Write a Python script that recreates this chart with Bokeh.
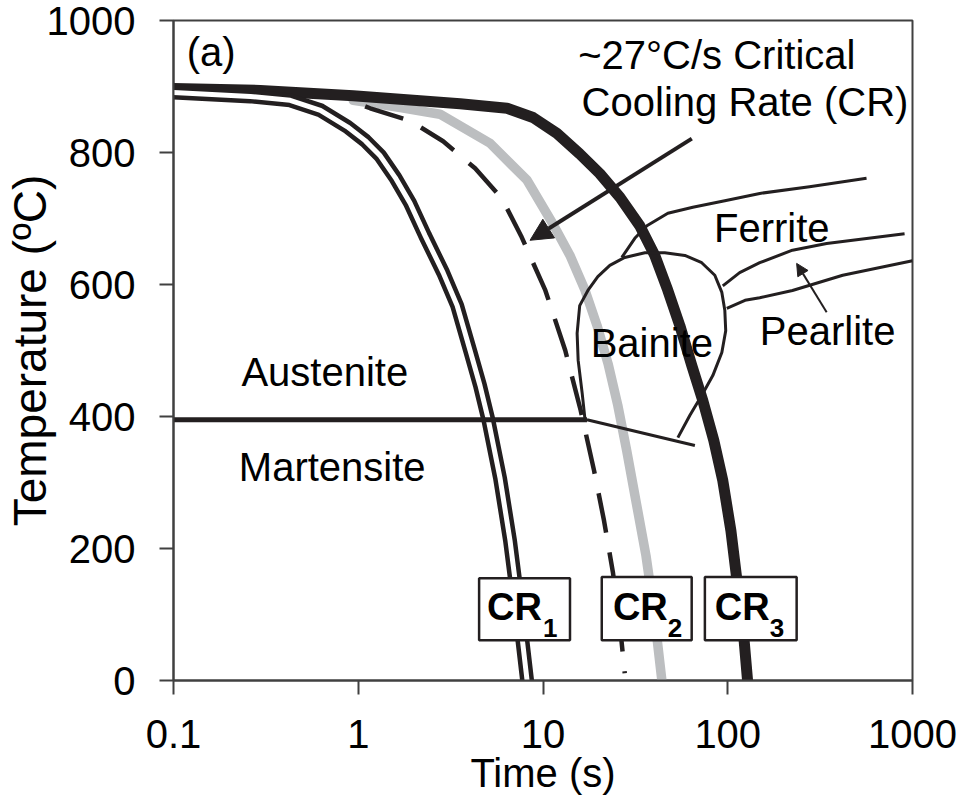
from bokeh.plotting import figure
from bokeh.models import Range1d, FixedTicker, Arrow, NormalHead, Label
from bokeh.embed import file_html
from bokeh.resources import INLINE

# ---------------- data ----------------
x_ticks = [0.1, 1, 10, 100, 1000]
x_tick_labels = ["0.1", "1", "10", "100", "1000"]
y_ticks = [0, 200, 400, 600, 800, 1000]

# CR1 (double line)
cr1_time = [0.1, 0.261, 0.428, 0.624, 0.873, 1.09, 1.315, 1.585, 1.91, 2.30, 2.88, 3.43,
            4.03, 4.56, 5.04, 5.86, 6.63, 7.41, 8.20]
cr1_temp = [891, 885, 879, 864, 839, 818, 795, 762, 723, 674, 618, 568,
            500, 447, 397, 306, 212, 106, 0]

# ~27 C/s critical cooling rate (dashed)
crit_time = [1.09, 1.16, 1.91, 2.88, 4.29, 6.0, 7.6, 10.3, 13.2, 16.0, 18.9, 21.4, 23.9, 26.1, 27.7]
crit_temp = [870, 867, 848, 817, 776, 730, 674, 591, 500, 409, 318, 242, 164, 83, 11]

# CR2 (grey)
cr2_time = [0.94, 1.69, 2.77, 5.17, 8.2, 11.3, 14.0, 16.9, 19.6, 22.5, 25.4, 28.4, 31.8,
            36.1, 39.8, 44.0]
cr2_temp = [879, 868, 858, 814, 758, 692, 644, 591, 538, 480, 417, 348, 273,
            189, 106, 0]

# CR3 (thick black)
cr3_time = [0.1, 0.295, 0.94, 3.56, 6.39, 8.83, 11.9, 15.8, 20.3, 26.1, 33.4, 40.3, 47.4,
            55.0, 63.9, 73.3, 84.0, 94.0, 104, 113, 122, 128]
cr3_temp = [897, 894, 886, 874, 867, 853, 829, 798, 768, 732, 689, 644, 591,
            538, 477, 424, 364, 303, 227, 144, 68, 0]

# Martensite start line
ms_time = [0.1, 17.3]
ms_temp = [395, 395]

# Bainite C-curve and its lower tie line
bain_time = [53.7, 62.4, 73.3, 83.0, 92.9, 97.5, 96.4, 92.9, 85.1, 72.3, 58.6, 45.6, 35.6,
             27.7, 23.0, 19.8, 17.5, 15.8, 15.3, 15.5, 16.3, 16.9]
bain_temp = [368, 402, 435, 462, 497, 530, 561, 588, 614, 633, 644, 648, 648,
             641, 629, 612, 591, 568, 526, 485, 435, 394]
bain_low_time = [17.3, 66.4]
bain_low_temp = [395, 356]

# Ferrite and pearlite curves
ferr_time = [26.7, 31.4, 36.5, 47.4, 64.7, 96.4, 149, 277, 564]
ferr_temp = [641, 670, 689, 708, 717, 727, 738, 748, 761]
pearl_up_time = [94, 116, 149, 224, 343, 906]
pearl_up_temp = [598, 618, 633, 652, 662, 677]
pearl_lo_time = [98.8, 124, 149, 224, 419, 1000]
pearl_lo_temp = [564, 576, 580, 591, 614, 636]

# CR label boxes (time range, temperature range)
box_left = [4.51, 20.8, 75.2]
box_right = [14.0, 63.8, 236]
box_bottom = [61, 61, 61]
box_top = [155, 157, 157]
box_names = ["CR", "CR", "CR"]
box_subs = ["1", "2", "3"]
box_text_x = [4.98, 23.9, 85.1]
box_sub_x = [10.0, 47.4, 169]

region_labels = ["(a)", "~27°C/s Critical", "Cooling Rate (CR)", "Ferrite", "Pearlite",
                 "Bainite", "Austenite", "Martensite"]
region_x = [0.160, 87.3, 124, 173, 347, 38.8, 0.659, 0.723]
region_y = [952, 947, 877, 685, 530, 512, 468, 323]

BLACK = "#231F20"
GREY = "#BCBEC0"
AXC = "#404040"
FONT = "Liberation Sans"

p = figure(width=964, height=805, x_axis_type="log",
           x_range=Range1d(0.1, 1000), y_range=Range1d(0, 1000),
           output_backend="svg", toolbar_location=None,
           min_border_left=173, min_border_right=52,
           min_border_top=20, min_border_bottom=125,
           x_axis_label="Time (s)", y_axis_label="Temperature (ºC)")
p.xgrid.visible = False
p.ygrid.visible = False
p.background_fill_color = "white"
p.border_fill_color = "white"
p.outline_line_color = AXC
p.outline_line_width = 2

p.xaxis.ticker = FixedTicker(ticks=x_ticks)
p.xaxis.major_label_overrides = dict(zip(x_ticks, x_tick_labels))
p.yaxis.ticker = FixedTicker(ticks=y_ticks)

for ax in (p.xaxis[0], p.yaxis[0]):
    ax.axis_line_color = AXC
    ax.axis_line_width = 2
    ax.major_tick_line_color = AXC
    ax.major_tick_line_width = 2
    ax.major_tick_in = 0
    ax.major_tick_out = 14
    ax.minor_tick_line_color = None
    ax.major_label_text_font = FONT
    ax.major_label_text_font_size = "40px"
    ax.major_label_text_color = "black"
    ax.axis_label_text_font = FONT
    ax.axis_label_text_font_style = "normal"
    ax.axis_label_text_color = "black"
p.xaxis.axis_label_text_font_size = "40px"
p.yaxis.axis_label_text_font_size = "46px"
p.xaxis.major_label_standoff = 25
p.xaxis.axis_label_standoff = 0
p.yaxis.major_label_standoff = 24
p.yaxis.axis_label_standoff = -12

# curves
p.line(cr2_time, cr2_temp, line_color=GREY, line_width=9.5, line_cap="round", line_join="round")
p.line(crit_time, crit_temp, line_color=BLACK, line_width=4.5, line_dash="40 20", line_join="round")
p.line(cr3_time, cr3_temp, line_color=BLACK, line_width=11, line_cap="round", line_join="round")
p.line(cr1_time, cr1_temp, line_color=BLACK, line_width=14, line_cap="round", line_join="round")
p.line(cr1_time, cr1_temp, line_color="white", line_width=5, line_cap="round", line_join="round")

# phase boundaries
p.line(ms_time, ms_temp, line_color=BLACK, line_width=5)
p.line(bain_time, bain_temp, line_color=BLACK, line_width=3, line_join="round")
p.line(bain_low_time, bain_low_temp, line_color=BLACK, line_width=3)
p.line(ferr_time, ferr_temp, line_color=BLACK, line_width=3, line_join="round")
p.line(pearl_up_time, pearl_up_temp, line_color=BLACK, line_width=3, line_join="round")
p.line(pearl_lo_time, pearl_lo_temp, line_color=BLACK, line_width=3, line_join="round")

# CR boxes
p.quad(left=box_left, right=box_right, bottom=box_bottom, top=box_top,
       fill_color="white", line_color=BLACK, line_width=2.5)
for name, sub, tx, sx in zip(box_names, box_subs, box_text_x, box_sub_x):
    p.add_layout(Label(x=tx, y=112, text=name, text_font=FONT, text_font_size="38px",
                       text_font_style="bold", text_color="black",
                       text_align="left", text_baseline="middle"))
    p.add_layout(Label(x=sx, y=79, text=sub, text_font=FONT, text_font_size="26px",
                       text_font_style="bold", text_color="black",
                       text_align="left", text_baseline="alphabetic"))

for t, x, y in zip(region_labels, region_x, region_y):
    p.add_layout(Label(x=x, y=y, text=t, text_font=FONT, text_font_size="40px",
                       text_color="black", text_align="center", text_baseline="middle"))

# arrows
p.add_layout(Arrow(end=NormalHead(size=22, fill_color=BLACK, line_color=BLACK),
                   x_start=63.9, y_start=821, x_end=8.51, y_end=667,
                   line_color=BLACK, line_width=4))
p.add_layout(Arrow(end=NormalHead(size=12, fill_color=BLACK, line_color=BLACK),
                   x_start=343, y_start=558, x_end=236, y_end=632,
                   line_color=BLACK, line_width=2))

open("out.html", "w").write(file_html(p, INLINE))
